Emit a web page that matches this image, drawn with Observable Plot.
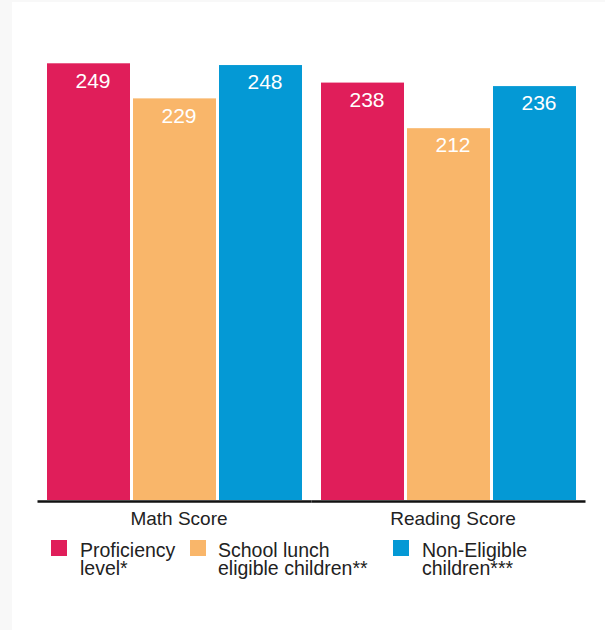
<!DOCTYPE html>
<html>
<head>
<meta charset="utf-8">
<script src="https://cdn.jsdelivr.net/npm/d3@7"></script>
<script src="https://cdn.jsdelivr.net/npm/@observablehq/plot@0.6"></script>
<style>
  html, body { margin: 0; padding: 0; background: #f8f8f8; }
  #page { position: relative; width: 605px; height: 630px; overflow: hidden; }
  #card { position: absolute; left: 12px; top: 2px; width: 600px; height: 640px; background: #fff; }
  #chart { position: absolute; left: 0; top: 0; }
  #legend { position: absolute; left: 0; top: 0; width: 605px; height: 630px; font-family: "Liberation Sans", Arial, sans-serif; font-size: 19.5px; color: #222; }
  .sw { position: absolute; width: 16px; height: 16px; }
  .lbl { position: absolute; white-space: nowrap; line-height: 18px; height: 18px; }
</style>
</head>
<body>
<div id="page">
  <div id="card"></div>
  <div id="chart"></div>
  <div id="legend"></div>
</div>
<script>
const categories = ["Math Score", "Reading Score"];
const series = ["Proficiency level*", "School lunch eligible children**", "Non-Eligible children***"];
const mathScores = [249, 229, 248];
const readingScores = [238, 212, 236];
const colors = ["#e01e5a", "#f9b66a", "#0499d5"];
const legendLines = [["Proficiency", "level*"], ["School lunch", "eligible children**"], ["Non-Eligible", "children***"]];

const data = [];
series.forEach((s, i) => data.push({cat: categories[0], series: s, value: mathScores[i]}));
series.forEach((s, i) => data.push({cat: categories[1], series: s, value: readingScores[i]}));

const chart = Plot.plot({
  width: 605,
  height: 535,
  marginLeft: 47,
  marginRight: 29,
  marginTop: 44,
  marginBottom: 35,
  fx: {domain: categories, paddingInner: 19 / 274, paddingOuter: 0, label: null},
  x: {domain: series, paddingInner: 3 / 86, paddingOuter: 0, axis: null},
  y: {domain: [0, 260], axis: null},
  color: {domain: series, range: colors},
  style: {fontFamily: "'Liberation Sans', Arial, sans-serif", background: "transparent", overflow: "visible"},
  marks: [
    Plot.barY(data, {fx: "cat", x: "series", y: "value", fill: "series"}),
    Plot.text(data, {fx: "cat", x: "series", y: "value", text: d => String(d.value), fill: "white", fontSize: 21, dy: 17, dx: 4}),
    Plot.ruleY([0], {stroke: "#111", strokeWidth: 2.5, dy: 1, insetLeft: -9.5, insetRight: -9.5}),
    Plot.axisFx({anchor: "bottom", tickSize: 0, tickPadding: 10.5, fontSize: 19, dx: 4, color: "#222", label: null})
  ]
});
document.getElementById("chart").appendChild(chart);

// Legend
const legendX = [{sw: 51, tx: 80}, {sw: 190, tx: 218}, {sw: 393, tx: 422}];
const legend = document.getElementById("legend");
series.forEach((s, i) => {
  const sw = document.createElement("div");
  sw.className = "sw";
  sw.style.left = legendX[i].sw + "px";
  sw.style.top = "540px";
  sw.style.background = colors[i];
  legend.appendChild(sw);
  legendLines[i].forEach((line, j) => {
    const lbl = document.createElement("div");
    lbl.className = "lbl";
    lbl.style.left = legendX[i].tx + "px";
    lbl.style.top = (540.5 + j * 18) + "px";
    lbl.textContent = line;
    legend.appendChild(lbl);
  });
});
</script>
</body>
</html>
